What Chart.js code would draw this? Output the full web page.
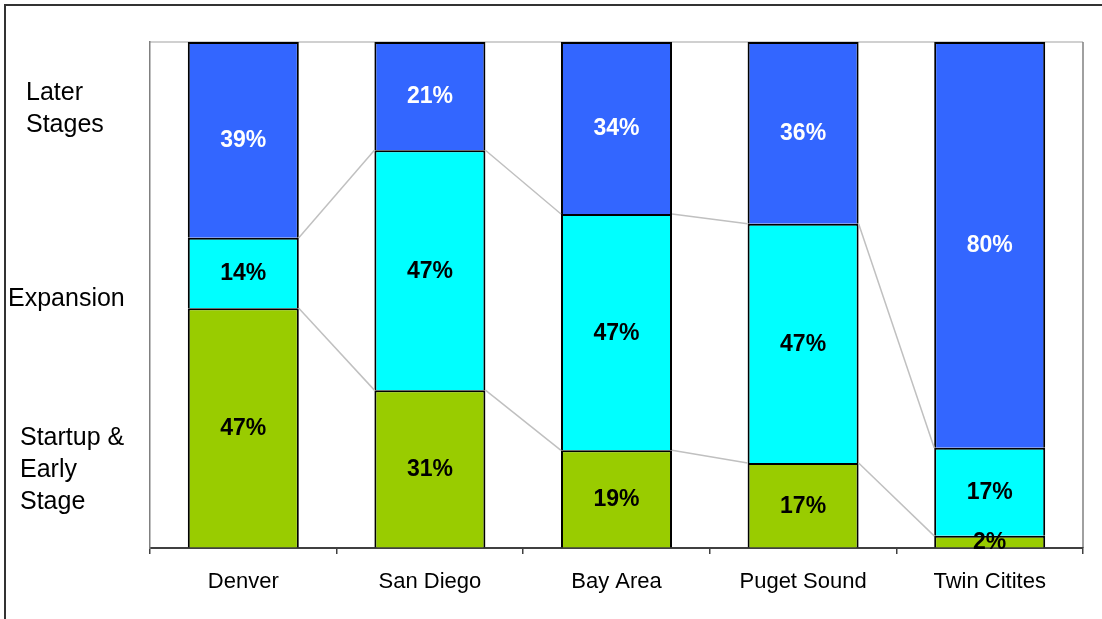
<!DOCTYPE html>
<html>
<head>
<meta charset="utf-8">
<script src="https://cdn.jsdelivr.net/npm/chart.js@4/dist/chart.umd.min.js"></script>
<style>
  body { margin: 0; background: #fff; }
  canvas { display: block; }
</style>
</head>
<body>
<canvas id="chart" width="1102" height="619"></canvas>
<script>
// data (share of each bar, %)
const regions = ['Denver', 'San Diego', 'Bay Area', 'Puget Sound', 'Twin Citites'];
const startup = [47.4, 31.2, 19.3, 16.8, 2.4];
const expansion = [13.9, 47.4, 46.7, 47.3, 17.4];
const later = [38.7, 21.4, 34.0, 35.9, 80.2];
const seriesNames = ['Startup & Early Stage', 'Expansion', 'Later Stages'];

// left side labels
const sideLabels = [
  { lines: ['Later', 'Stages'], x: 26, y: 93 },
  { lines: ['Expansion'], x: 8, y: 299 },
  { lines: ['Startup &', 'Early', 'Stage'], x: 20, y: 438 }
];

const frame = {
  id: 'frame',
  beforeDraw(chart) {
    const ctx = chart.ctx;
    ctx.save();
    ctx.strokeStyle = '#333';
    ctx.lineWidth = 2;
    ctx.beginPath();
    ctx.moveTo(5, 700); ctx.lineTo(5, 5); ctx.lineTo(1200, 5);
    ctx.stroke();
    const a = chart.chartArea;
    ctx.lineWidth = 1.5;
    ctx.strokeStyle = '#c0c0c0';
    ctx.beginPath(); ctx.moveTo(a.left, a.top); ctx.lineTo(a.right, a.top); ctx.stroke();
    ctx.strokeStyle = '#808080';
    ctx.beginPath(); ctx.moveTo(a.right, a.top); ctx.lineTo(a.right, a.bottom); ctx.stroke();
    ctx.restore();
  },
  afterDraw(chart) {
    const ctx = chart.ctx;
    ctx.save();
    ctx.fillStyle = '#000';
    ctx.font = '25px "Liberation Sans", Arial, sans-serif';
    ctx.textBaseline = 'middle';
    sideLabels.forEach(l => {
      l.lines.forEach((t, i) => ctx.fillText(t, l.x, l.y + i * 32));
    });
    ctx.restore();
  }
};

const seriesLines = {
  id: 'seriesLines',
  afterDatasetsDraw(chart) {
    const ctx = chart.ctx;
    ctx.save();
    ctx.strokeStyle = '#c0c0c0';
    ctx.lineWidth = 1.5;
    [0, 1].forEach(d => {
      const els = chart.getDatasetMeta(d).data;
      for (let i = 0; i < els.length - 1; i++) {
        const a = els[i], b = els[i + 1];
        ctx.beginPath();
        ctx.moveTo(a.x + a.width / 2, a.y);
        ctx.lineTo(b.x - b.width / 2, b.y);
        ctx.stroke();
      }
    });
    ctx.restore();
  }
};

const valueLabels = {
  id: 'valueLabels',
  afterDraw(chart) {
    const ctx = chart.ctx;
    ctx.save();
    ctx.font = 'bold 23px "Liberation Sans", Arial, sans-serif';
    ctx.textAlign = 'center';
    ctx.textBaseline = 'middle';
    chart.data.datasets.forEach((ds, d) => {
      ctx.fillStyle = d === 2 ? '#fff' : '#000';
      chart.getDatasetMeta(d).data.forEach((el, i) => {
        ctx.fillText(Math.round(ds.data[i]) + '%', el.x, (el.y + el.base) / 2 + 1);
      });
    });
    ctx.restore();
  }
};

new Chart(document.getElementById('chart'), {
  type: 'bar',
  data: {
    labels: regions,
    datasets: [
      { label: seriesNames[0], data: startup, backgroundColor: '#99cc00' },
      { label: seriesNames[1], data: expansion, backgroundColor: '#00ffff' },
      { label: seriesNames[2], data: later, backgroundColor: '#3366ff' }
    ]
  },
  options: {
    responsive: false,
    animation: false,
    layout: { padding: { left: 150, top: 42, right: 19, bottom: 0 } },
    datasets: {
      bar: {
        borderColor: '#000',
        borderWidth: 2,
        barPercentage: 0.595,
        categoryPercentage: 1
      }
    },
    plugins: {
      legend: { display: false },
      tooltip: { enabled: false },
      title: { display: false }
    },
    scales: {
      x: {
        stacked: true,
        grid: {
          offset: true,
          drawOnChartArea: false,
          drawTicks: true,
          tickLength: 6,
          color: '#404040',
          lineWidth: 1.5
        },
        border: { color: '#404040', width: 2 },
        ticks: {
          color: '#000',
          padding: 15,
          font: { family: '"Liberation Sans", Arial, sans-serif', size: 22 }
        },
        afterFit(s) { s.height = 619 - 548; }
      },
      y: {
        stacked: true,
        min: 0,
        max: 100,
        grid: { drawOnChartArea: false, drawTicks: false },
        border: { color: '#808080', width: 1.5 },
        ticks: { display: false },
        afterFit(s) { s.width = 0; }
      }
    }
  },
  plugins: [frame, seriesLines, valueLabels]
});
</script>
</body>
</html>
